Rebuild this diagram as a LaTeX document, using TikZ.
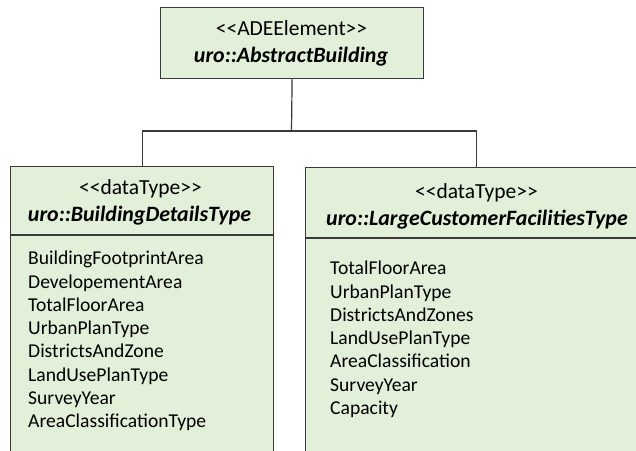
\documentclass[tikz,border=0pt]{standalone}
\usepackage{fontspec}
\setmainfont{Carlito}
\definecolor{boxfill}{HTML}{E2EFD9}
\definecolor{boxline}{HTML}{3A3A3A}
% UML stereotype brackets, kept apart so they are not merged into guillemets
\newcommand{\umlstereo}[1]{<\kern0pt<#1>\kern0pt>}

\begin{document}
\begin{tikzpicture}[x=1bp,y=-1bp,
  umlbox/.style={draw=boxline, fill=boxfill, line width=1.2bp, rectangle,
                 anchor=north west, inner sep=0pt},
  stereo/.style={font=\fontsize{21.5bp}{26bp}\selectfont, anchor=base, inner sep=0pt},
  cname/.style={font=\fontsize{21.9bp}{26bp}\selectfont\bfseries\itshape, anchor=base, inner sep=0pt},
  attr/.style={font=\fontsize{19.6bp}{23bp}\selectfont, anchor=base west, inner sep=0pt},
  link/.style={draw=boxline, line width=1.2bp}]

\useasboundingbox (0,0) rectangle (636,451);
\clip (0,0) rectangle (636,451);
\fill[white] (0,0) rectangle (636,451);

% abstract parent class
\node[umlbox, minimum width=263bp, minimum height=71bp] (abs) at (160,7) {};
\node[stereo] (absst) at (291.5,36) {\umlstereo{ADEElement}};
\node[cname]  (absnm) at (291,63) {uro::AbstractBuilding};

% data type: building details
\node[umlbox, minimum width=263bp, minimum height=300bp] (bd) at (10,166) {};
\draw[link] (bd.north west) ++(0,69) -- ++(263,0);
\node[stereo] (bdst) at (140.5,195) {\umlstereo{dataType}};
\node[cname]  (bdnm) at (139.5,222) {uro::BuildingDetailsType};
\foreach \t [count=\i] in {BuildingFootprintArea, DevelopementArea, TotalFloorArea,
    UrbanPlanType, DistrictsAndZone, LandUsePlanType, SurveyYear, AreaClassificationType}
  \node[attr] (bda\i) at (28,{265+23.24*(\i-1)}) {\t};

% data type: large customer facilities
\node[umlbox, minimum width=342bp, minimum height=300bp] (lcf) at (305,167) {};
\draw[link] (lcf.north west) ++(0,71) -- ++(342,0);
\node[stereo] (lcfst) at (476.5,199) {\umlstereo{dataType}};
\node[cname]  (lcfnm) at (477,226) {uro::LargeCustomerFacilitiesType};
\foreach \t [count=\i] in {TotalFloorArea, UrbanPlanType, DistrictsAndZones,
    LandUsePlanType, AreaClassification, SurveyYear, Capacity}
  \node[attr] (lcfa\i) at (330,{275+23.2*(\i-1)}) {\t};

% generalisation tree
\coordinate (j) at (291.5,131);
\draw[link] (abs.south) -- (j);
\draw[link] (bd.north) |- (j) -| (lcf.north);
\end{tikzpicture}
\end{document}
